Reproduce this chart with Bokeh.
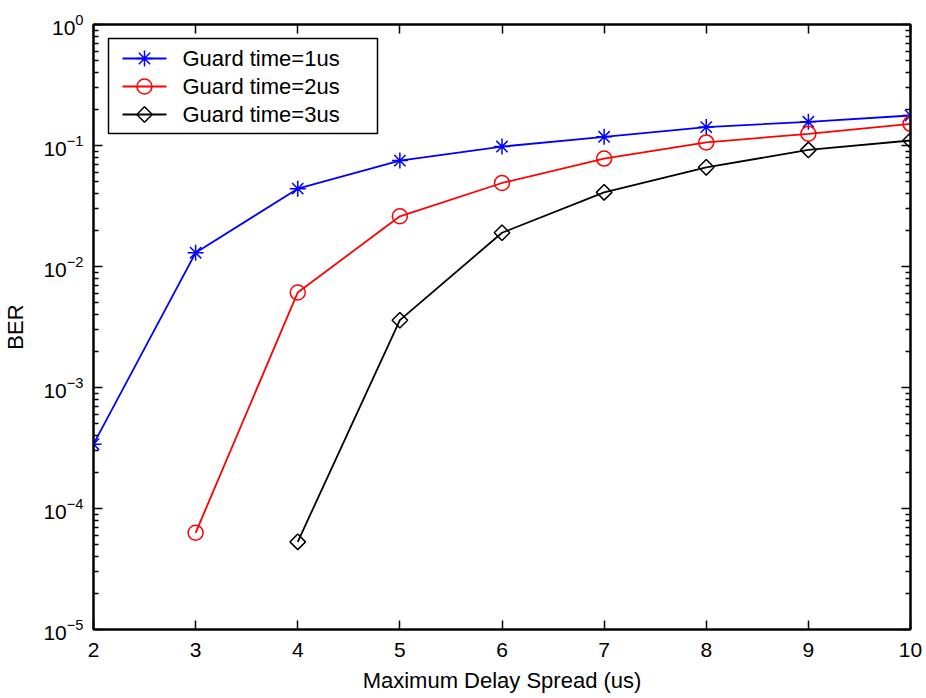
import numpy as np
from bokeh.plotting import figure
from bokeh.models import (LogAxis, LinearAxis, FixedTicker, CustomJSTickFormatter,
                          Range1d, LinearScale)
from bokeh.core.properties import value
from bokeh.embed import file_html
from bokeh.resources import INLINE

# Maximum delay spread (us) and measured BER for each guard time
delay_1us = [2, 3, 4, 5, 6, 7, 8, 9, 10]
ber_1us = [3.4e-4, 1.3e-2, 0.044, 0.075, 0.098, 0.118, 0.142, 0.157, 0.177]

delay_2us = [3, 4, 5, 6, 7, 8, 9, 10]
ber_2us = [6.3e-5, 6.1e-3, 0.026, 0.049, 0.078, 0.106, 0.125, 0.151]

delay_3us = [4, 5, 6, 7, 8, 9, 10]
ber_3us = [5.3e-5, 3.6e-3, 0.019, 0.041, 0.066, 0.092, 0.110]

series_labels = ["Guard time=1us", "Guard time=2us", "Guard time=3us"]
series_colors = ["blue", "red", "black"]

x_ticks = [2, 3, 4, 5, 6, 7, 8, 9, 10]
y_exponents = [-5, -4, -3, -2, -1, 0]

FONT = "Liberation Sans"
TICK_SIZE = "21px"
LABEL_SIZE = "22px"
LINE_W = 1.8

FRAME_W, FRAME_H = 817, 605

p = figure(width=926, height=698, y_axis_type="log",
           x_range=Range1d(2, 10), y_range=Range1d(1e-5, 1),
           output_backend="svg", toolbar_location=None,
           min_border_left=93, min_border_right=16,
           min_border_top=24, min_border_bottom=69)
p.background_fill_color = "white"
p.border_fill_color = "white"
p.outline_line_color = "black"
p.outline_line_width = 2
p.grid.visible = False

major_y = [10.0 ** e for e in y_exponents]
minor_y = [m * 10.0 ** e for e in y_exponents[:-1] for m in range(2, 10)]
y_ticker = FixedTicker(ticks=major_y, minor_ticks=minor_y)
x_ticker = FixedTicker(ticks=x_ticks, minor_ticks=[])


def style_axis(ax):
    ax.axis_line_color = "black"
    ax.axis_line_width = 2
    ax.major_tick_line_color = "black"
    ax.major_tick_line_width = 1.5
    ax.minor_tick_line_color = "black"
    ax.minor_tick_line_width = 1.5
    ax.major_tick_in = 9
    ax.major_tick_out = 0
    ax.minor_tick_in = 5
    ax.minor_tick_out = 0
    ax.major_label_text_font = FONT
    ax.major_label_text_font_size = TICK_SIZE
    ax.major_label_text_color = "black"
    ax.axis_label_text_font = FONT
    ax.axis_label_text_font_size = LABEL_SIZE
    ax.axis_label_text_font_style = "normal"
    ax.axis_label_text_color = "black"


xa = p.xaxis[0]
xa.ticker = x_ticker
style_axis(xa)
xa.axis_label = "Maximum Delay Spread (us)"
xa.major_label_standoff = 13
xa.axis_label_standoff = 8

ya = p.yaxis[0]
ya.ticker = y_ticker
style_axis(ya)
ya.axis_label = "BER"
ya.major_label_standoff = 10
ya.axis_label_standoff = 12

blank = CustomJSTickFormatter(code="return ''")

top = LinearAxis(ticker=x_ticker, formatter=blank)
style_axis(top)
top.major_label_standoff = 0
p.add_layout(top, "above")

right = LogAxis(ticker=y_ticker, formatter=blank)
style_axis(right)
right.major_label_standoff = 0
p.add_layout(right, "right")

# data series
p.line(delay_1us, ber_1us, line_color=series_colors[0], line_width=LINE_W)
p.scatter(delay_1us, ber_1us, marker="asterisk", size=16,
          line_color=series_colors[0], line_width=1.5)
p.line(delay_2us, ber_2us, line_color=series_colors[1], line_width=LINE_W)
p.scatter(delay_2us, ber_2us, marker="circle", size=15,
          line_color=series_colors[1], fill_color=None, line_width=1.5)
p.line(delay_3us, ber_3us, line_color=series_colors[2], line_width=LINE_W)
p.scatter(delay_3us, ber_3us, marker="square", angle=np.pi / 4, size=11,
          line_color=series_colors[2], fill_color=None, line_width=1.5)

# legend box, laid out in frame pixels (origin at top-left of the frame)
p.extra_x_ranges = {"lx": Range1d(0, FRAME_W)}
p.extra_y_ranges = {"ly": Range1d(FRAME_H, 0)}
p.extra_x_scales = {"lx": LinearScale()}
p.extra_y_scales = {"ly": LinearScale()}

box_l, box_r, box_t, box_b = 15, 284, 14, 109
row_y = [34, 62, 90]
sample_x0, sample_x1, text_x = 29, 73, 89
mid_x = (sample_x0 + sample_x1) / 2

p.quad(left=[box_l], right=[box_r], top=[box_t], bottom=[box_b],
       fill_color="white", line_color="black", line_width=1.5,
       x_range_name="lx", y_range_name="ly")
p.segment(x0=[sample_x0] * 3, x1=[sample_x1] * 3, y0=row_y, y1=row_y,
          line_color=series_colors, line_width=LINE_W,
          x_range_name="lx", y_range_name="ly")
p.scatter([mid_x], [row_y[0]], marker="asterisk", size=16,
          line_color=series_colors[0], line_width=1.5,
          x_range_name="lx", y_range_name="ly")
p.scatter([mid_x], [row_y[1]], marker="circle", size=15,
          line_color=series_colors[1], fill_color=None, line_width=1.5,
          x_range_name="lx", y_range_name="ly")
p.scatter([mid_x], [row_y[2]], marker="square", angle=np.pi / 4, size=11,
          line_color=series_colors[2], fill_color=None, line_width=1.5,
          x_range_name="lx", y_range_name="ly")
p.text(x=[text_x] * 3, y=row_y, text=series_labels,
       text_font=value(FONT), text_font_size=LABEL_SIZE, text_color="black",
       text_align="left", text_baseline="middle",
       x_range_name="lx", y_range_name="ly")

open("out.html", "w").write(file_html(p, INLINE))
